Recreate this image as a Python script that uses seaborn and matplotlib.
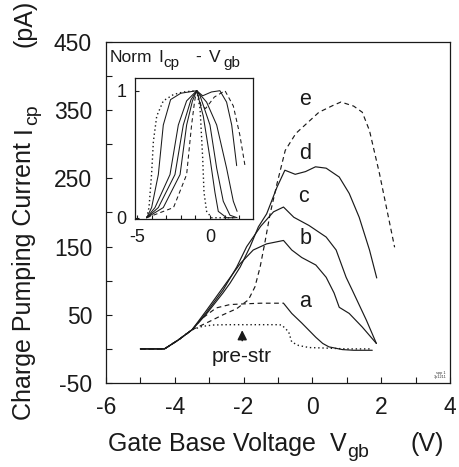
import numpy as np
import matplotlib
matplotlib.use("Agg")
import matplotlib.pyplot as plt
import seaborn as sns

# ---- main panel: charge pumping current vs gate-base voltage ----
pre_v = [-5.0, -4.3, -3.9, -3.5, -3.2, -2.9, -2.5, -2.0, -1.5, -1.0, -0.89, -0.69, -0.6, -0.4, -0.1, 0.5, 1.0, 1.74]
pre_i = [0, 0, 13, 28, 33, 35, 35.5, 35.5, 35.5, 35.5, 35, 25, 10, 5, 2, 1, 0, 0]

a_v = [-5.0, -4.3, -3.9, -3.5, -3.2, -2.8, -2.4, -2.0, -1.5, -1.0, -0.84, -0.6, -0.31, 0.1, 0.3, 0.48, 0.87, 1.2, 1.74]
a_i = [0, 0, 13, 28, 45, 60, 65, 66, 67, 67, 67, 52, 38, 17, 8, 3, -1, -2, -2]

b_v = [-5.0, -4.3, -3.9, -3.5, -3.1, -2.6, -2.1, -1.72, -1.33, -0.84, -0.6, -0.31, 0.1, 0.4, 0.63, 0.78, 1.07, 1.45, 1.86]
b_i = [0, 0, 13, 28, 55, 90, 125, 145, 154, 159, 145, 134, 123, 105, 82, 61, 52, 32, 8]

c_v = [-5.0, -4.3, -3.9, -3.5, -3.1, -2.6, -2.2, -1.91, -1.5, -1.13, -0.84, -0.54, -0.1, 0.4, 0.69, 0.98, 1.16, 1.57, 1.86]
c_i = [0, 0, 13, 28, 52, 86, 120, 150, 180, 201, 208, 193, 181, 164, 145, 105, 86, 42, 8]

d_v = [-5.0, -4.3, -3.9, -3.5, -3.1, -2.6, -2.4, -2.1, -1.81, -1.57, -1.33, -1.03, -0.8, -0.5, -0.2, 0.09, 0.4, 0.78, 1.07, 1.36, 1.66, 1.87]
d_i = [0, 0, 13, 28, 50, 82, 96, 120, 150, 179, 198, 237, 262, 256, 260, 267, 265, 252, 228, 193, 145, 104]

e_v = [-5.0, -4.3, -3.9, -3.5, -3.0, -2.6, -2.2, -1.86, -1.67, -1.52, -1.37, -1.23, -1.03, -0.79, -0.48, 0.19, 0.6, 0.83, 1.2, 1.45, 1.66, 1.95, 2.39]
e_i = [0, 0, 13, 28, 40, 50, 59, 72, 91, 120, 159, 198, 242, 291, 316, 347, 357, 362, 356, 347, 320, 257, 149]

curve_names = ["a", "b", "c", "d", "e"]
label_v = [-0.2, -0.2, -0.25, -0.22, -0.22]
label_i = [69, 162, 223, 287, 366]

# ---- inset: normalised curves ----
n_pre_v = [-4.34, -4.18, -4.0, -3.88, -3.65, -3.2, -2.5, -1.83, -0.91, -0.68, -0.5, -0.41, -0.23, 0.11, 1.74]
n_pre_n = [0, 0.08, 0.35, 0.6, 0.8, 0.92, 0.97, 0.99, 1.0, 0.86, 0.47, 0.2, 0.05, 0.0, 0.0]
n_a_v = [-4.34, -4.0, -3.54, -3.2, -2.7, -2.0, -0.91, -0.46, 0.0, 0.34, 0.57, 1.14, 1.74]
n_a_n = [0, 0.08, 0.34, 0.73, 0.93, 0.98, 1.0, 0.8, 0.47, 0.2, 0.05, 0.0, 0.0]
n_b_v = [-4.34, -3.77, -2.74, -2.17, -1.6, -0.91, -0.68, 0.0, 0.46, 0.91, 1.37, 1.86]
n_b_n = [0, 0.08, 0.34, 0.73, 0.92, 1.0, 0.96, 0.73, 0.39, 0.13, 0.02, 0.0]
n_c_v = [-4.34, -3.54, -2.4, -1.83, -1.3, -0.91, -0.23, 0.46, 1.14, 1.6, 1.86]
n_c_n = [0, 0.08, 0.34, 0.73, 0.93, 1.0, 0.91, 0.73, 0.39, 0.13, 0.05]
n_d_v = [-4.34, -3.2, -2.05, -1.6, -1.2, -0.91, -0.5, 0.1, 0.68, 1.14, 1.49, 1.83]
n_d_n = [0, 0.08, 0.34, 0.73, 0.92, 1.0, 0.96, 0.99, 1.0, 0.91, 0.73, 0.41]
n_e_v = [-4.34, -2.5, -1.6, -1.26, -1.05, -0.91, -0.6, -0.3, 0.3, 1.03, 1.6, 2.05, 2.4]
n_e_n = [0, 0.08, 0.34, 0.73, 0.92, 1.0, 0.88, 0.86, 0.95, 1.0, 0.88, 0.65, 0.41]

sns.set_theme(style="ticks")
plt.rcParams["font.family"] = ["Liberation Sans", "DejaVu Sans"]

INK = "#1a1a1a"
DOT = (0, (1, 2))
DASH = (0, (4, 3))

W, H = 459, 467
fig = plt.figure(figsize=(W / 100, H / 100), dpi=100)
ax = fig.add_axes([106 / W, 1 - 383 / H, 344 / W, 341 / H])


def line(axis, xs, ys, style="-", lw=0.85):
    sns.lineplot(x=np.asarray(xs, float), y=np.asarray(ys, float), ax=axis,
                 color=INK, linewidth=lw, linestyle=style, sort=False,
                 estimator=None)


def put(px, py, s, size, rot=False):
    """Place a text run by its left/baseline point given in figure pixels."""
    fig.text(px / W, 1 - py / H, s, fontsize=size, color=INK,
             ha="left", va="baseline", rotation=90 if rot else 0,
             rotation_mode="anchor")


line(ax, pre_v, pre_i, DOT, 1.0)
# curve a: dashed on the plateau, solid on the falling edge
a_v_arr, a_i_arr = np.array(a_v), np.array(a_i)
line(ax, a_v_arr[a_v_arr <= -0.84], a_i_arr[a_v_arr <= -0.84], DASH)
line(ax, a_v_arr[a_v_arr >= -0.84], a_i_arr[a_v_arr >= -0.84], "-")
line(ax, b_v, b_i)
line(ax, c_v, c_i)
line(ax, d_v, d_i)
line(ax, e_v, e_i, DASH)

for name, lv, li in zip(curve_names, label_v, label_i):
    ax.text(lv, li, name, fontsize=15.5, ha="center", va="center", color=INK)

ax.annotate("", xy=(-2.04, 31.5), xytext=(-2.04, 8),
            arrowprops=dict(arrowstyle="-|>", color=INK, lw=1.1, mutation_scale=14))
ax.text(-2.06, -11.5, "pre-str", fontsize=15, ha="center", va="center", color=INK)
ax.text(3.72, -38, "spp 1\n3p1211", fontsize=2.8, ha="center", va="center",
        color="#333333", linespacing=0.9)

ax.set_xlim(-6, 4)
ax.set_ylim(-50, 450)
ax.set_xticks(np.arange(-6, 4.1, 2))
ax.set_xticks(np.arange(-6, 4.1, 1), minor=True)
ax.set_yticks(np.arange(-50, 451, 100))
ax.set_yticks(np.arange(0, 401, 100), minor=True)
ax.set_xticklabels([f"{int(t)}" for t in np.arange(-6, 4.1, 2)])
ax.set_yticklabels([f"{int(t)}" for t in np.arange(-50, 451, 100)])
ax.tick_params(which="both", direction="in", length=4, width=0.8, color=INK,
               labelsize=16.5, labelcolor=INK)
ax.tick_params(axis="y", pad=10)
ax.tick_params(axis="x", pad=9)
ax.set_xlabel("")
ax.set_ylabel("")
for s in ax.spines.values():
    s.set_color(INK)
    s.set_linewidth(0.9)

# x axis title, built from runs so the subscript keeps its size
put(108, 451, "Gate Base Voltage", 18)
put(330, 451, "V", 18)
put(347, 457, "gb", 14)
put(411, 451, "(V)", 18)

# y axis title (rotated runs)
put(31, 420, "Charge Pumping Current", 18, rot=True)
put(31, 133, "I", 18, rot=True)
put(37, 125, "cp", 14, rot=True)
put(31, 47, "(pA)", 18, rot=True)

# ---- inset ----
ins = fig.add_axes([135 / W, 1 - 219 / H, 118 / W, 141 / H])
line(ins, n_pre_v, n_pre_n, DOT, 1.0)
line(ins, n_a_v, n_a_n, "-", 0.75)
line(ins, n_b_v, n_b_n, "-", 0.75)
line(ins, n_c_v, n_c_n, "-", 0.75)
line(ins, n_d_v, n_d_n, "-", 0.75)
line(ins, n_e_v, n_e_n, DASH, 0.75)
ins.set_xlim(-5.14, 2.95)
ins.set_ylim(-0.01, 1.1)
ins.set_xticks([-5, 0])
ins.set_xticks(np.arange(-5, 3, 1), minor=True)
ins.set_yticks([0, 1])
ins.set_xticklabels(["-5", "0"])
ins.set_yticklabels(["0", "1"])
ins.tick_params(which="both", direction="in", length=3, width=0.8, color=INK,
                labelsize=13, labelcolor=INK)
ins.tick_params(axis="x", pad=7)
ins.tick_params(axis="y", pad=6)
ins.set_xlabel("")
ins.set_ylabel("")
for s in ins.spines.values():
    s.set_color(INK)
    s.set_linewidth(0.9)

# inset title
put(110, 62, "Norm", 12.5)
put(158, 62, "I", 12.5)
put(163, 67, "cp", 11)
put(195, 62, "-", 12.5)
put(209, 62, "V", 12.5)
put(223, 67, "gb", 11)

fig.savefig("out.png", dpi=100)
